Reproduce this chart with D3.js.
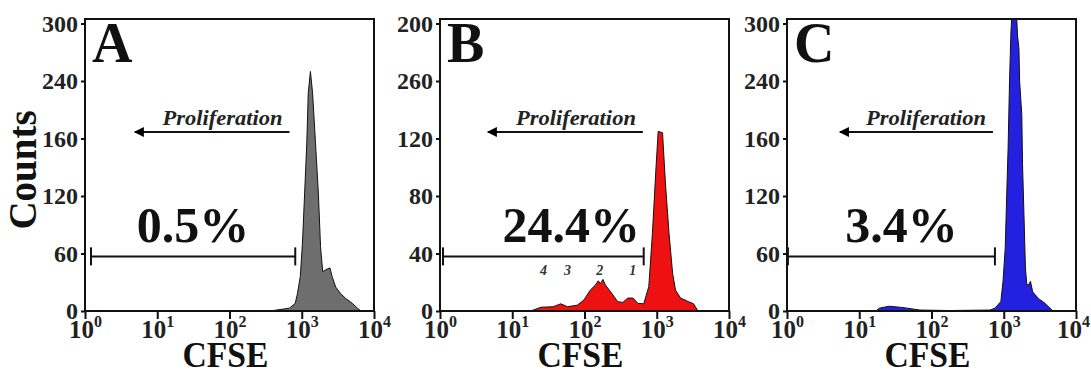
<!DOCTYPE html>
<html>
<head>
<meta charset="utf-8">
<script src="https://cdn.jsdelivr.net/npm/d3@7"></script>
<style>
  body { margin: 0; background: #fff; }
  svg text { font-family: "Liberation Serif", "Times New Roman", serif; }
</style>
</head>
<body>
<svg id="chart" width="1091" height="379"></svg>
<script>
// CFSE decades on the x axis
const xTicks = [1, 10, 100, 1000, 10000];
const xExps = ["0", "1", "2", "3", "4"];

// y tick values / printed labels (panel B prints "260" where 160 sits)
const yTicksA = [0, 60, 120, 160, 240, 300];
const yLabelsA = ["0", "60", "120", "160", "240", "300"];
const yTicksB = [0, 40, 80, 120, 160, 200];
const yLabelsB = ["0", "40", "80", "120", "260", "200"];
const yTicksC = [0, 60, 120, 160, 240, 300];
const yLabelsC = ["0", "60", "120", "160", "240", "300"];

// histogram A (grey)
const cfseA = [355, 450, 676, 813, 871, 955, 1023, 1096, 1175, 1230, 1318, 1413, 1549, 1698, 1820, 1950, 2138, 2455, 2630, 2951, 3467, 4074, 5012, 5888, 6607];
const countsA = [0, 1, 3, 8, 18, 36, 71, 122, 157, 223, 250, 223, 157, 122, 67, 41, 43, 45, 36, 25, 18, 13, 8, 3, 0];

// histogram B (red)
const cfseB = [18, 25, 37, 47, 58, 79, 98, 120, 141, 155, 166, 180, 195, 229, 288, 339, 398, 468, 550, 661, 776, 871, 977, 1047, 1202, 1318, 1479, 1660, 1820, 2138, 2754, 3236, 3715];
const countsB = [0, 2.6, 3, 5, 3, 4, 7.6, 14.5, 18, 21, 19, 22, 18, 13.5, 6.5, 6, 9, 9, 5.3, 5, 17, 54, 100, 125, 124, 89, 54, 26, 14.5, 9, 6.5, 5, 0];

// histogram C (blue)
const cfseC = [17, 19, 26, 36, 46, 69, 178, 646, 759, 912, 977, 1047, 1096, 1148, 1202, 1259, 1288, 1514, 1549, 1622, 1660, 1778, 1820, 1905, 1995, 2089, 2239, 2344, 2512, 3020, 3715, 4365, 4786];
const countsC = [0, 3, 5, 4, 3, 1, 0.5, 1, 3, 10, 31, 65, 118, 153, 239, 292, 305, 305, 288, 274, 239, 193, 142, 100, 45, 27, 28, 31, 20, 13, 8, 3, 0];

// gates, arrows and percentages (data units)
const panelNames = ["A", "B", "C"];
const percents = ["0.5%", "24.4%", "3.4%"];
const gateFrom = [1.21, 1.1, 1.03];
const gateTo = [813, 660, 755];
const gateLevel = [57, 38, 57];
const arrowFrom = [676, 643, 708];
const arrowTo = [4.9, 4.6, 5.4];
const arrowLevel = [169, 124.5, 169];
const genLabels = ["4", "3", "2", "1"];
const genCfse = [27, 58, 162, 465];
const genLevel = 25;

const panels = [
  {cfse: cfseA, counts: countsA, yt: yTicksA, yl: yLabelsA, fill: "#6e6e6e", left: 85},
  {cfse: cfseB, counts: countsB, yt: yTicksB, yl: yLabelsB, fill: "#ee1111", left: 440},
  {cfse: cfseC, counts: countsC, yt: yTicksC, yl: yLabelsC, fill: "#2420e0", left: 787}
];

const plotW = 289, plotTop = 19, plotBottom = 311, step = 57.5;

const svg = d3.select("#chart");

// filled arrow head, tip pointing along the line direction
svg.append("defs").append("marker")
  .attr("id", "head")
  .attr("viewBox", "0 0 10 10")
  .attr("refX", 9).attr("refY", 5)
  .attr("markerWidth", 7).attr("markerHeight", 5)
  .attr("markerUnits", "strokeWidth")
  .attr("orient", "auto")
  .append("path").attr("d", "M0,0 L10,5 L0,10 Z").attr("fill", "#000");

panels.forEach((p, k) => {
  const x = d3.scaleLog().domain([1, 10000]).range([p.left, p.left + plotW]);
  const y = d3.scaleLinear()
    .domain(p.yt)
    .range(p.yt.map((d, i) => plotBottom - i * step));

  const g = svg.append("g");

  g.append("clipPath").attr("id", "clip" + k)
    .append("rect").attr("x", p.left).attr("y", plotTop).attr("width", plotW).attr("height", plotBottom - plotTop);

  const data = p.cfse.map((c, i) => [c, p.counts[i]]);
  const area = d3.area()
    .x(d => x(d[0]))
    .y0(y(0))
    .y1(d => y(d[1]));

  g.append("path")
    .datum(data)
    .attr("clip-path", `url(#clip${k})`)
    .attr("d", area)
    .attr("fill", p.fill)
    .attr("stroke", "#111")
    .attr("stroke-width", 1)
    .attr("stroke-linejoin", "round");

  // frame
  g.append("rect")
    .attr("x", p.left).attr("y", plotTop)
    .attr("width", plotW).attr("height", plotBottom - plotTop)
    .attr("fill", "none").attr("stroke", "#111").attr("stroke-width", 2);

  // y axis
  const yAxis = g.append("g")
    .attr("transform", `translate(${p.left},0)`)
    .call(d3.axisLeft(y).tickValues(p.yt).tickFormat((d, i) => p.yl[i]).tickSize(4).tickPadding(3));
  yAxis.select(".domain").remove();
  yAxis.selectAll("line").attr("stroke", "#111").attr("stroke-width", 2);
  yAxis.selectAll("text")
    .attr("font-size", 24).attr("font-weight", "bold").attr("fill", "#222")
    .attr("font-family", "Liberation Serif");

  // x axis
  const xAxis = g.append("g")
    .attr("transform", `translate(0,${plotBottom})`)
    .call(d3.axisBottom(x).tickValues(xTicks).tickFormat("").tickSize(8));
  xAxis.select(".domain").remove();
  xAxis.selectAll("line").attr("stroke", "#111").attr("stroke-width", 2);
  xAxis.selectAll(".tick").each(function(d, i) {
    const t = d3.select(this).select("text")
      .attr("y", 27).attr("dy", null)
      .attr("x", (k === 2 && i === 4) ? -3 : 0)
      .attr("font-weight", "bold").attr("fill", "#222")
      .attr("text-anchor", "middle");
    t.append("tspan").attr("font-size", 25).text("10");
    t.append("tspan").attr("font-size", 16).attr("dy", -11).text(xExps[i]);
  });

  // axis title
  g.append("text")
    .attr("x", p.left + plotW / 2 - 4).attr("y", 367)
    .attr("text-anchor", "middle")
    .attr("font-size", 36).attr("font-weight", "bold").attr("fill", "#111")
    .attr("textLength", 86).attr("lengthAdjust", "spacingAndGlyphs")
    .text("CFSE");

  // panel letter
  g.append("text")
    .attr("x", p.left + 7).attr("y", 62)
    .attr("font-size", 56).attr("font-weight", "bold").attr("fill", "#111")
    .text(panelNames[k]);

  // proliferation arrow
  g.append("line")
    .attr("x1", x(arrowFrom[k])).attr("x2", x(arrowTo[k]))
    .attr("y1", y(arrowLevel[k])).attr("y2", y(arrowLevel[k]))
    .attr("stroke", "#111").attr("stroke-width", 2)
    .attr("marker-end", "url(#head)");
  g.append("text")
    .attr("x", x(arrowFrom[k]) - 7).attr("y", y(arrowLevel[k]) - 7)
    .attr("text-anchor", "end")
    .attr("font-size", 20).attr("font-weight", "bold").attr("font-style", "italic")
    .attr("fill", "#222")
    .attr("textLength", 120).attr("lengthAdjust", "spacingAndGlyphs")
    .text("Proliferation");

  // gate
  const gy = y(gateLevel[k]);
  const gx1 = x(gateFrom[k]), gx2 = x(gateTo[k]);
  g.append("line").attr("x1", gx1).attr("x2", gx2).attr("y1", gy).attr("y2", gy)
    .attr("stroke", "#111").attr("stroke-width", 2);
  [gx1, gx2].forEach(gx => {
    g.append("line").attr("x1", gx).attr("x2", gx).attr("y1", gy - 9).attr("y2", gy + 9)
      .attr("stroke", "#111").attr("stroke-width", 2);
  });
  g.append("text")
    .attr("x", (gx1 + gx2) / 2 + (k === 1 ? 28 : 0) + (k === 2 ? 10 : 0))
    .attr("y", gy - 14)
    .attr("text-anchor", "middle")
    .attr("font-size", 50).attr("font-weight", "bold").attr("fill", "#111")
    .text(percents[k]);

  // generation numbers in B
  if (k === 1) {
    g.selectAll(".gen").data(genLabels).enter().append("text")
      .attr("x", (d, i) => x(genCfse[i]))
      .attr("y", y(genLevel))
      .attr("text-anchor", "middle")
      .attr("font-size", 14).attr("font-weight", "bold").attr("font-style", "italic")
      .attr("fill", "#333")
      .text(d => d);
  }
});

// y axis title
svg.append("text")
  .attr("transform", "translate(36,170) rotate(-90)")
  .attr("text-anchor", "middle")
  .attr("font-size", 39).attr("font-weight", "bold").attr("fill", "#111")
  .text("Counts");
</script>
</body>
</html>
